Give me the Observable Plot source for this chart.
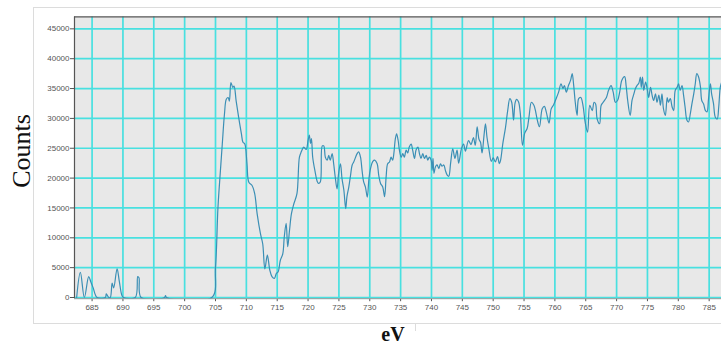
<!DOCTYPE html>
<html>
<head>
<meta charset="utf-8">
<script src="https://cdn.jsdelivr.net/npm/d3@7"></script>
<script src="https://cdn.jsdelivr.net/npm/@observablehq/plot@0.6"></script>
<style>
  body { margin: 0; background: #fff; }
  #wrap { position: relative; width: 721px; height: 346px; overflow: hidden; }
  #panel { position: absolute; left: 33px; top: 7px; width: 720px; height: 315px; border: 1px solid #dcdcdc; }
  #labelbox { position: absolute; left: 415px; top: 323px; width: 0; height: 8px; border-left: 1px solid #dcdcdc; }
  #chart { position: absolute; left: 0; top: 0; }
  .axis-title { position: absolute; font-family: 'Liberation Serif', 'Times New Roman', serif; color: #111; white-space: nowrap; line-height: 1; }
  #ytitle { left: 22px; top: 151px; font-size: 26px; transform: translate(-50%, -50%) rotate(-90deg); }
  #xtitle { left: 393px; top: 334px; font-size: 20px; font-weight: bold; transform: translate(-50%, -50%); }
</style>
</head>
<body>
<div id="wrap">
  <div id="panel"></div>
  <div id="labelbox"></div>
  <div id="chart"></div>
  <div class="axis-title" id="ytitle">Counts</div>
  <div class="axis-title" id="xtitle">eV</div>
</div>
<script>
// Photon energy (eV) and detector counts of the absorption scan
const energy = [
  682.5, 683.1, 683.75, 684.45, 684.8, 685.15, 685.8, 687.15, 687.3, 687.7,
  687.95, 688.25, 688.5, 689.05, 689.4, 689.85, 690.1, 692.0, 692.4, 692.6,
  692.95, 696.75, 696.9, 697.05, 704.4,
  705.0, 705.4, 705.8, 706.1, 706.45, 706.75, 707.05, 707.25, 707.5, 707.8,
  708.0, 708.35, 708.75, 709.2, 709.45, 709.75, 710.1, 710.4, 710.9, 711.35,
  711.75, 712.3, 712.65, 713.0, 713.4, 713.8, 714.15, 714.55, 714.85, 715.15,
  715.5, 715.9, 716.15, 716.45, 716.7, 717.0, 717.3, 717.7,
  718.2, 718.6, 718.9, 719.3, 719.7, 720.0, 720.2, 720.4, 720.55, 720.75,
  721.1, 721.5, 721.7, 722.0, 722.3, 722.55, 722.8, 723.1, 723.35, 723.6,
  723.9, 724.15, 724.4, 724.7, 724.95, 725.25, 725.5, 725.8, 726.1, 726.3,
  726.6, 726.85, 727.15, 727.4, 727.95, 728.2, 728.5, 728.75, 729.0, 729.3,
  729.6, 729.85, 730.1, 730.5, 730.8,
  731.2, 731.45, 731.75, 732.1, 732.4, 732.65, 732.9, 733.2, 733.45, 733.7,
  733.9, 734.15, 734.35, 734.6, 734.8, 735.1, 735.35, 735.6, 735.9, 736.15,
  736.4, 736.7, 736.95, 737.25, 737.5, 737.8, 738.05, 738.3, 738.6, 738.85,
  739.15, 739.4, 739.65, 739.95, 740.1, 740.25, 740.4, 740.65, 740.9, 741.2,
  741.45, 741.7, 742.0, 742.25, 742.55, 742.8, 743.1, 743.45, 743.8, 744.15,
  744.4, 744.85, 745.2, 745.5, 746.0, 746.4, 746.8, 747.1, 747.4, 747.7,
  747.95, 748.2, 748.5, 748.75, 749.0, 749.3, 749.7, 750.0, 750.35, 750.7,
  751.0, 751.2, 751.55, 752.0, 752.35, 752.7, 753.0, 753.3, 753.55, 753.8,
  754.1, 754.4, 754.75, 755.1, 755.5, 755.8, 756.2, 756.6,
  756.85, 757.15, 757.5, 757.95, 758.3, 758.6, 759.05, 759.4, 759.8, 760.2,
  760.6, 761.0, 761.3, 761.55, 761.85, 762.2, 762.55, 762.8, 763.05, 763.3,
  763.6, 763.85, 764.2, 764.55, 764.9, 765.3, 765.65, 766.05, 766.35, 766.6,
  766.85, 767.25, 767.5, 767.9, 768.35, 768.7, 769.1, 769.45, 769.8, 770.15,
  770.5, 770.85, 771.3, 771.55, 771.8, 772.2, 772.5, 772.8, 773.05, 773.3,
  773.6, 773.85, 774.0, 774.2, 774.4, 774.7, 774.95, 775.2, 775.5, 775.75,
  776.0, 776.3, 776.55, 776.85, 777.1, 777.35, 777.6, 777.9, 778.2, 778.4,
  778.7, 779.0, 779.25, 779.5, 779.8, 780.05, 780.3, 780.6, 780.85, 781.1,
  781.4, 781.65, 781.95, 782.2, 782.5, 782.75, 783.0, 783.3, 783.6, 783.8,
  784.1, 784.4, 784.65, 784.9, 785.2, 785.4, 785.7, 786.0, 786.3, 786.55,
  786.8, 787.0
];
const counts = [
  0, 4200, 0, 3500, 2600, 1700, 0, 0, 600, 0,
  0, 2400, 1600, 4800, 2800, 300, 0, 0, 3500, 3300,
  0, 0, 300, 0, 0,
  5100, 15100, 21300, 25700, 30700, 33200, 33500, 32900, 36000, 35200,
  35400, 32900, 30200, 27400, 26000, 25700, 22400, 19300, 18800, 17400,
  14000, 10600, 9000, 4800, 7100, 4600, 3500, 3200, 4000, 4300,
  6200, 7300, 10200, 12400, 8500, 11300, 14000, 15700,
  17400, 23500, 24400, 25200, 24800, 26300, 27200, 25800, 26600, 23500,
  21300, 19400, 19100, 19400, 25400, 25400, 23500, 23000, 23800, 23000,
  24100, 22400, 20200, 18200, 20800, 22400, 19900, 18000, 14900, 16900,
  18500, 20200, 22200, 22700, 24100, 24400, 23500, 21300, 19400, 18500,
  16800, 19700, 21500, 22800, 23000,
  22400, 20500, 19100, 18500, 16900, 20200, 22400, 22700, 23500, 23000,
  24100, 26600, 27400, 26300, 24700, 23500, 24100, 23500, 24700, 24200,
  25200, 25700, 24700, 23300, 24700, 25200, 24100, 23300, 24100, 23300,
  23800, 23000, 23500, 23000, 21300, 23300, 20800, 21900, 22200, 21600,
  22400, 22000, 22200, 21300, 20500, 20300, 22500, 24900, 23300, 24700,
  22500, 24900, 25700, 24500, 26300, 25600, 26800, 25500, 28600, 26500,
  26000, 24200, 27000, 29100, 26800, 24900, 22800, 23400, 22700, 23600,
  22400, 23000, 25700, 28500, 31300, 33300, 32700, 29700, 32600, 33200,
  32800, 30800, 25500, 27500, 28300, 30200, 32700, 32200,
  31300, 29700, 28600, 31600, 32000, 31100, 29200, 31600, 32300, 33300,
  34400, 35800, 35000, 35500, 34400, 35500, 36400, 37500, 35500, 32700,
  30500, 33300, 33500, 32200, 29400, 27700, 32200, 31300, 32700, 32400,
  29900, 29100, 32200, 32800, 33500, 34700, 35500, 34400, 32700, 33000,
  34400, 36400, 37000, 35400, 33000, 30500, 33000, 34100, 35000, 35500,
  35900, 36900, 35200, 36900, 34700, 36100, 35000, 33500, 35200, 33900,
  33000, 34100, 32700, 33900, 32200, 34100, 31600, 30500, 33500, 32700,
  33300, 31900, 31300, 34700, 35200, 35800, 34700, 35500, 33900, 31900,
  29700, 29400, 30800, 32400, 34100, 35800, 37500, 36900, 35200, 33000,
  32400, 31300, 31100, 33300, 35800, 34100, 32500, 30200, 29900, 31900,
  35200, 36000
];

// Axis ticks
const xTicks = [685, 690, 695, 700, 705, 710, 715, 720, 725, 730, 735, 740, 745, 750, 755, 760, 765, 770, 775, 780, 785];
const yTicks = [0, 5000, 10000, 15000, 20000, 25000, 30000, 35000, 40000, 45000];

const xDomain = [682.15, 787.0];
const yDomain = [-200, 47000];

const scan = energy.map((e, i) => ({energy: e, counts: counts[i]}));
const gridColor = "#48e0e0";

const chart = Plot.plot({
  width: 721,
  height: 346,
  marginLeft: 74,
  marginRight: 0,
  marginTop: 16.4,
  marginBottom: 47.8,
  style: {background: "transparent", fontFamily: "'Liberation Sans', Arial, sans-serif", fontSize: "8px", color: "#555"},
  x: {domain: xDomain, ticks: xTicks, tickSize: 3, tickPadding: 3, label: null},
  y: {domain: yDomain, ticks: yTicks, tickSize: 4, tickPadding: 1, label: null, tickFormat: d3.format("d")},
  marks: [
    Plot.frame({fill: "#e8e8e8", stroke: null}),
    Plot.ruleX(xTicks, {stroke: gridColor, strokeWidth: 1.7}),
    Plot.ruleY(yTicks, {stroke: gridColor, strokeWidth: 1.7}),
    Plot.ruleX([xDomain[0]], {stroke: "#555", strokeWidth: 1.2}),
    Plot.ruleY([yDomain[1]], {stroke: "#555", strokeWidth: 1.2}),
    Plot.ruleY([yDomain[0]], {stroke: "#8a9a9a", strokeWidth: 1}),
    Plot.line(scan, {x: "energy", y: "counts", stroke: "#3b8fb5", strokeWidth: 1.2, curve: "catmull-rom", clip: true})
  ]
});

document.getElementById("chart").appendChild(chart);
</script>
</body>
</html>
